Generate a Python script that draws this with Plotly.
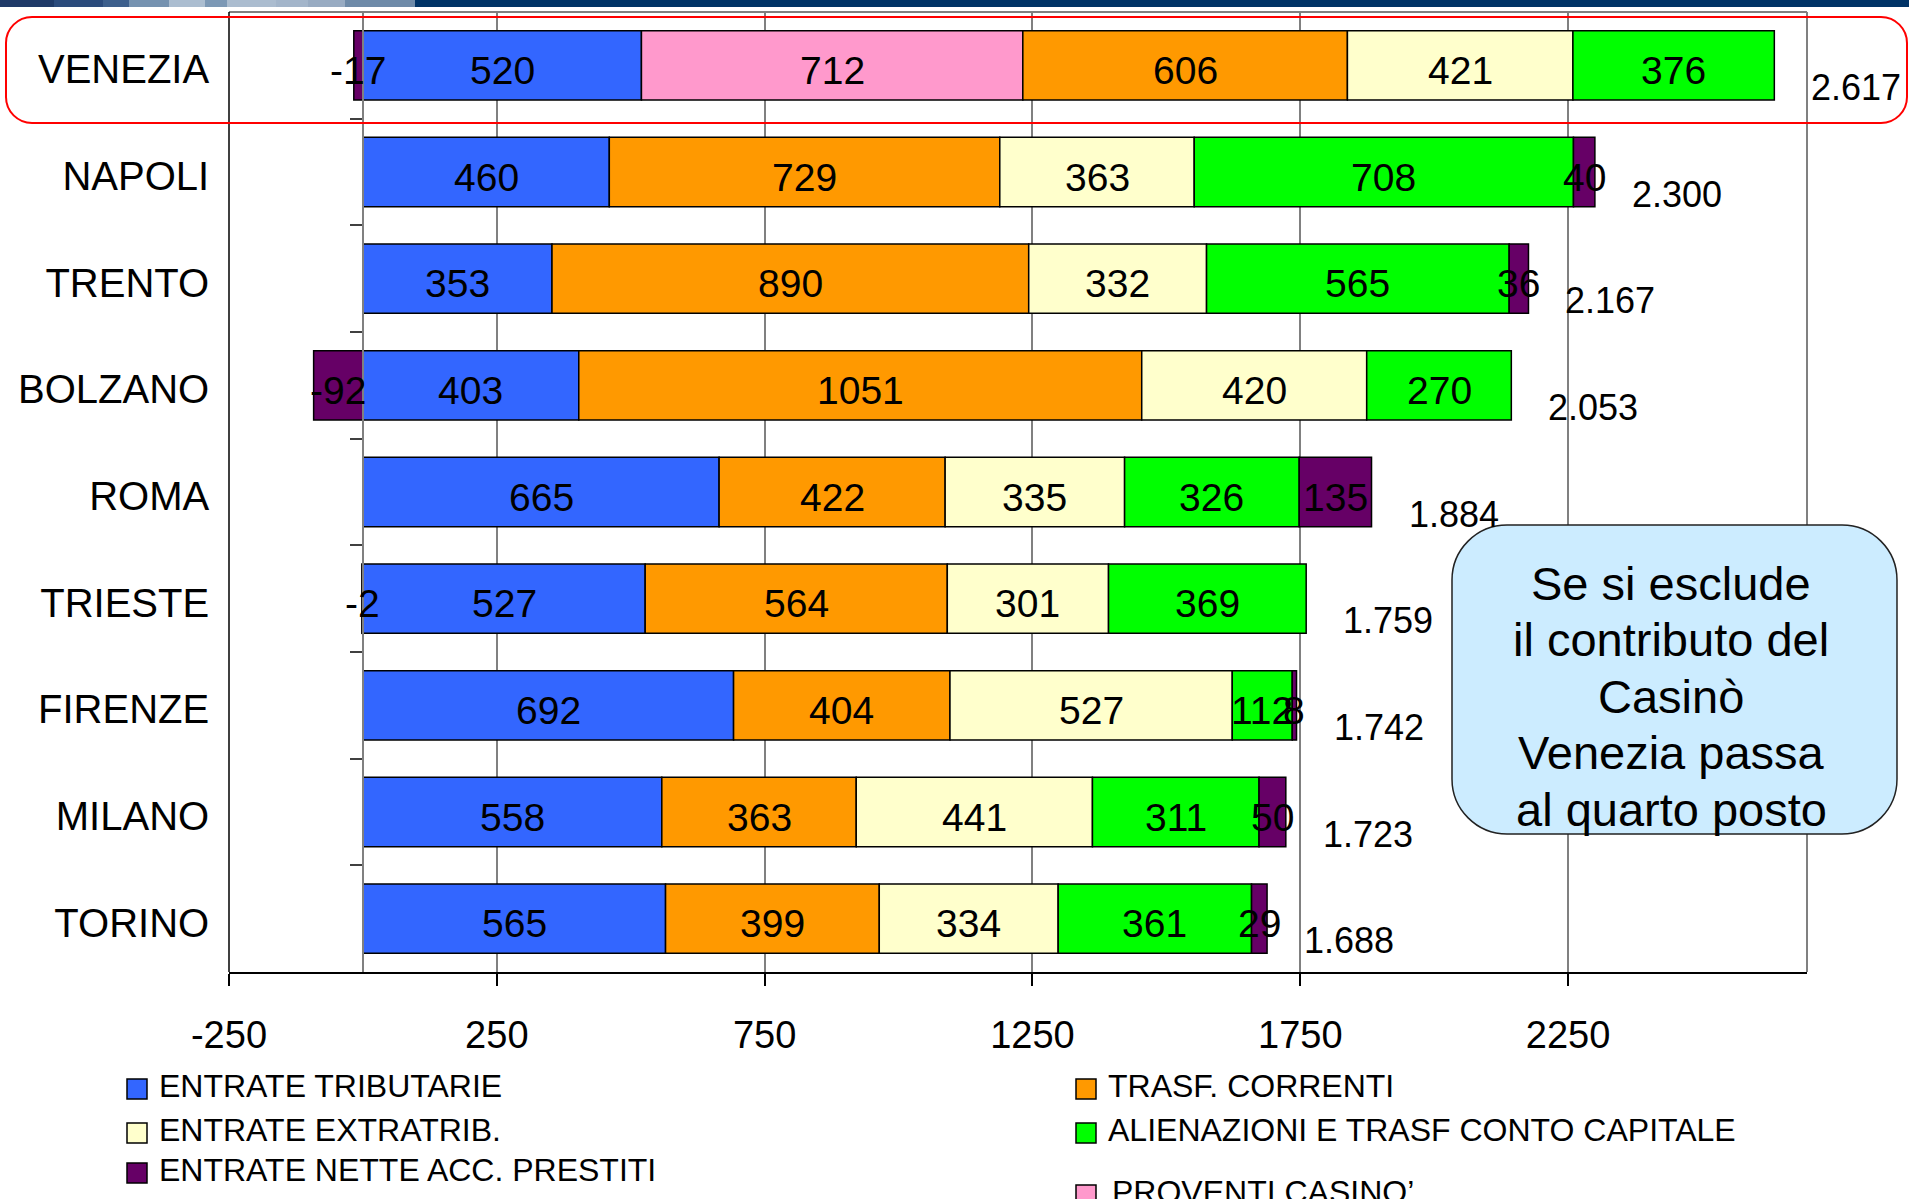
import plotly.graph_objects as go

# ---------------- data ----------------
cities = ["VENEZIA", "NAPOLI", "TRENTO", "BOLZANO", "ROMA", "TRIESTE", "FIRENZE", "MILANO", "TORINO"]
entrate_tributarie = [520, 460, 353, 403, 665, 527, 692, 558, 565]
proventi_casino = [712, None, None, None, None, None, None, None, None]
trasf_correnti = [606, 729, 890, 1051, 422, 564, 404, 363, 399]
entrate_extratrib = [421, 363, 332, 420, 335, 301, 527, 441, 334]
alienazioni = [376, 708, 565, 270, 326, 369, 112, 311, 361]
entrate_prestiti = [-17, 40, 36, -92, 135, -2, 8, 50, 29]
totals = [2617, 2300, 2167, 2053, 1884, 1759, 1742, 1723, 1688]

series_names = ["ENTRATE TRIBUTARIE", "PROVENTI CASINO’", "TRASF. CORRENTI",
                "ENTRATE EXTRATRIB.", "ALIENAZIONI E TRASF CONTO CAPITALE",
                "ENTRATE NETTE ACC. PRESTITI"]
series_values = [entrate_tributarie, proventi_casino, trasf_correnti,
                 entrate_extratrib, alienazioni, entrate_prestiti]
series_colors = ["#3366FF", "#FF99CC", "#FF9900", "#FFFFCC", "#00FF00", "#660066"]

x_tickvals = [-250, 250, 750, 1250, 1750, 2250]
x_ticktext = ["-250", "250", "750", "1250", "1750", "2250"]
x_range = [-250, 2696]

note_lines = ["Se si esclude", "il contributo del", "Casinò", "Venezia passa", "al quarto posto"]

# ---------------- layout geometry (pixels) ----------------
FONT = "Liberation Sans, Arial, sans-serif"
W, H = 1909, 1199
L, R, T, B = 229, 1807, 12, 972


def px(xp):
    return (xp - L) / (R - L)


def py(yp):
    return (B - yp) / (B - T)


def rrect_path(x0, y0, x1, y1, r):
    k = 0.5523 * r

    def P(a, b):
        return f"{px(a):.5f},{py(b):.5f}"
    s = f"M{P(x0 + r, y0)} L{P(x1 - r, y0)} "
    s += f"C{P(x1 - r + k, y0)} {P(x1, y0 + r - k)} {P(x1, y0 + r)} "
    s += f"L{P(x1, y1 - r)} "
    s += f"C{P(x1, y1 - r + k)} {P(x1 - r + k, y1)} {P(x1 - r, y1)} "
    s += f"L{P(x0 + r, y1)} "
    s += f"C{P(x0 + r - k, y1)} {P(x0, y1 - r + k)} {P(x0, y1 - r)} "
    s += f"L{P(x0, y0 + r)} "
    s += f"C{P(x0, y0 + r - k)} {P(x0 + r - k, y0)} {P(x0 + r, y0)} Z"
    return s


fig = go.Figure()
annotations = []

pos_base = [0] * len(cities)
neg_base = [0] * len(cities)
for name, vals, col in zip(series_names, series_values, series_colors):
    fig.add_trace(go.Bar(
        orientation="h", y=cities, x=vals, name=name,
        marker=dict(color=col, line=dict(color="black", width=1.5)),
        showlegend=False, hoverinfo="skip",
    ))
    # segment labels, centred on each stacked segment (relative stacking)
    for i, v in enumerate(vals):
        if v is None:
            continue
        if v >= 0:
            mid = pos_base[i] + v / 2
            pos_base[i] += v
        else:
            mid = neg_base[i] + v / 2
            neg_base[i] += v
        annotations.append(dict(xref="x", yref="y", x=mid, y=cities[i], text=str(v),
                                showarrow=False, xanchor="center", yanchor="middle", yshift=-5,
                                font=dict(size=39, color="black", family=FONT)))

shapes = []

# top banner
banner = [(0, 54, "#1f3a68"), (54, 103, "#2b4b7c"), (103, 129, "#3d5f8c"), (129, 169, "#7592b0"),
          (169, 205, "#abbdd0"), (205, 227, "#7c98b5"), (227, 276, "#abbccf"), (276, 308, "#a3b5ca"),
          (308, 345, "#98abc2"), (345, 415, "#6e8aa8"), (415, 1909, "#003366")]
for a, b, c in banner:
    shapes.append(dict(type="rect", xref="paper", yref="paper", x0=px(a), x1=px(b), y0=py(0), y1=py(7),
                       fillcolor=c, line=dict(width=0), layer="above"))

# plot frame
shapes.append(dict(type="line", xref="paper", yref="paper", x0=0, x1=1, y0=1, y1=1,
                   line=dict(color="#808080", width=2)))
shapes.append(dict(type="line", xref="paper", yref="paper", x0=1, x1=1, y0=0, y1=1,
                   line=dict(color="#808080", width=2)))
shapes.append(dict(type="line", xref="paper", yref="paper", x0=0, x1=0, y0=0, y1=1,
                   line=dict(color="black", width=1.5)))

# note box
shapes.append(dict(type="path", xref="paper", yref="paper", path=rrect_path(1452, 525, 1897, 834, 55),
                   fillcolor="#CCECFF", line=dict(color="#222222", width=1.5), layer="above"))
for i, line in enumerate(note_lines):
    annotations.append(dict(xref="paper", yref="paper", x=px(1671), y=py(583 + i * 56.5),
                            text=line, showarrow=False, xanchor="center", yanchor="middle",
                            font=dict(size=47, color="black", family=FONT)))

# red highlight around VENEZIA
shapes.append(dict(type="path", xref="paper", yref="paper", path=rrect_path(6, 17, 1907, 123, 26),
                   line=dict(color="#FF0000", width=2), layer="above"))

# totals
for city, tot, *vals in zip(cities, totals, *series_values):
    pos_end = sum(v for v in vals if v is not None and v > 0)
    annotations.append(dict(xref="x", yref="y", x=pos_end, y=city,
                            text=f"{tot:,}".replace(",", "."), showarrow=False,
                            xanchor="left", yanchor="middle", xshift=35, yshift=-22,
                            font=dict(size=36, color="black", family=FONT)))

# legend (manual, two columns)
legend_pos = {
    "ENTRATE TRIBUTARIE": (127, 1089),
    "TRASF. CORRENTI": (1076, 1089),
    "ENTRATE EXTRATRIB.": (127, 1133),
    "ALIENAZIONI E TRASF CONTO CAPITALE": (1076, 1133),
    "ENTRATE NETTE ACC. PRESTITI": (127, 1173),
    "PROVENTI CASINO’": (1076, 1195),
}
for name, col in zip(series_names, series_colors):
    lx, ly = legend_pos[name]
    shapes.append(dict(type="rect", xref="paper", yref="paper",
                       x0=px(lx), x1=px(lx + 20), y0=py(ly - 10), y1=py(ly + 10),
                       fillcolor=col, line=dict(color="black", width=1.5)))
    tx = lx + 30 if name != "PROVENTI CASINO’" else lx + 34
    annotations.append(dict(xref="paper", yref="paper", x=px(tx), y=py(ly - 3),
                            text=name, showarrow=False, xanchor="left", yanchor="middle",
                            font=dict(size=32, color="black", family=FONT)))

fig.update_layout(
    width=W, height=H, autosize=False,
    margin=dict(l=L, r=W - R, t=T, b=H - B, pad=0),
    barmode="relative", bargap=0.35,
    plot_bgcolor="white", paper_bgcolor="white",
    font=dict(family=FONT, color="black"),
    xaxis=dict(range=x_range, tickmode="array", tickvals=x_tickvals, ticktext=x_ticktext,
               ticks="outside", ticklen=12, tickwidth=1.5, tickcolor="black",
               showline=True, linecolor="black", linewidth=2,
               showgrid=True, gridcolor="#808080", gridwidth=1.5, zeroline=False,
               tickfont=dict(size=38, color="black", family=FONT), ticklabelstandoff=16),
    yaxis=dict(type="category", categoryorder="array", categoryarray=cities,
               range=[8.5, -0.5], anchor="free", position=250 / (x_range[1] - x_range[0]),
               showline=True, linecolor="#808080", linewidth=1.5,
               ticks="outside", tickson="boundaries", ticklen=12, tickwidth=1.5, tickcolor="#404040",
               tickfont=dict(size=40, color="black", family=FONT), ticklabelstandoff=145,
               ticklabelshift=-4,
               showgrid=False, zeroline=False),
    shapes=shapes, annotations=annotations,
)

fig.write_html("out.html", config={"displayModeBar": False},
               post_script="document.body.style.margin='0';document.body.style.overflow='hidden';")
